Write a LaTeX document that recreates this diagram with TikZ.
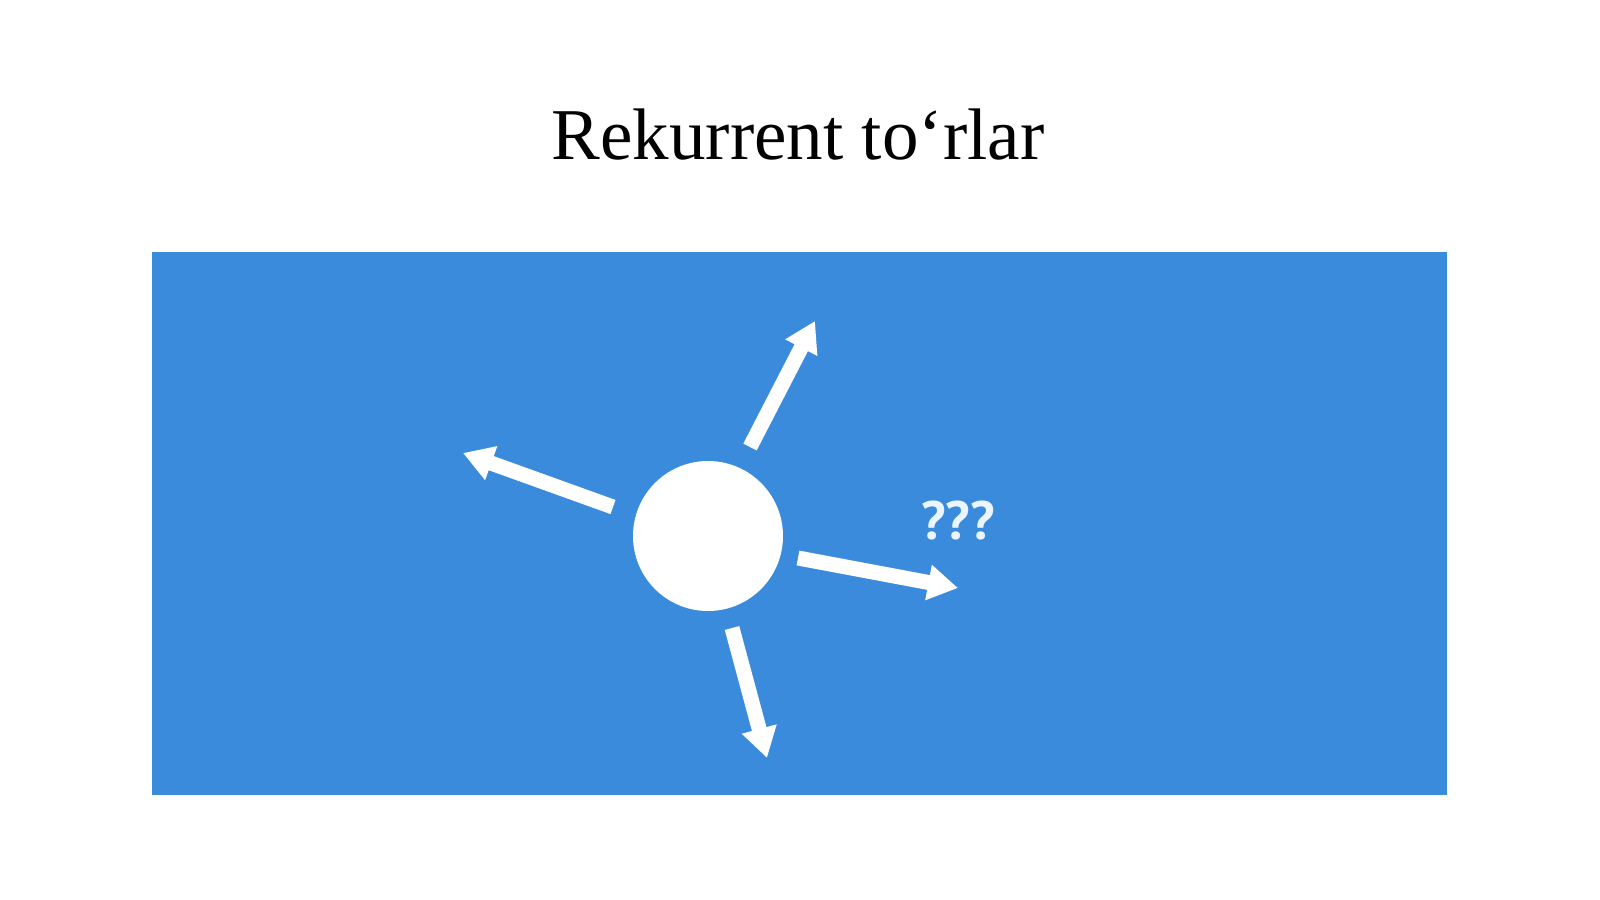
\documentclass[tikz,border=0pt]{standalone}
\usepackage{fontspec}
\setmainfont{Liberation Serif}
\newfontfamily\qfont{PT Sans}
\usetikzlibrary{arrows.meta}
\definecolor{panelblue}{HTML}{3A8BDB}
\definecolor{qwhite}{HTML}{EAF5FF}
\tikzset{
  arr/.style={draw=white, line width=15pt, -{Triangle[length=30pt,width=34pt]}},
  ball/.style={circle, fill=white, minimum size=150pt, inner sep=0pt},
}
\begin{document}
\begin{tikzpicture}[x=1pt,y=-1pt]
\useasboundingbox (0,0) rectangle (1600,899);
\fill[white] (0,0) rectangle (1600,899);
\node[anchor=base, font=\fontsize{73}{78}\selectfont] (title) at (798,159) {Rekurrent to‘rlar};
\fill[panelblue] (152,252) rectangle (1447,795);
\node[ball] (c) at (708,536) {};
\coordinate (urT) at (750,447); \coordinate (urH) at (815,321);
\coordinate (lT) at (613,507);  \coordinate (lH) at (463,453);
\coordinate (rT) at (798,558);  \coordinate (rH) at (958,588);
\coordinate (dT) at (732,628);  \coordinate (dH) at (767,758);
\draw[arr] (urT) -- (urH);
\draw[arr] (lT) -- (lH);
\draw[arr] (rT) -- (rH);
\draw[arr] (dT) -- (dH);
\node[text=qwhite, font=\qfont\bfseries\fontsize{54}{60}\selectfont] (q) at (958,521) {???};
\end{tikzpicture}
\end{document}
